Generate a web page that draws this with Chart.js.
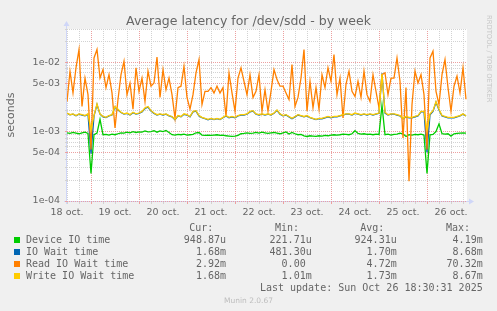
<!DOCTYPE html>
<html>
<head>
<meta charset="utf-8">
<script src="https://cdn.jsdelivr.net/npm/chart.js@4/dist/chart.umd.min.js"></script>
<style>
  html, body { margin: 0; padding: 0; background: #f0f0f0; }
  #wrap { position: relative; width: 497px; height: 311px; overflow: hidden; background: #f0f0f0; }
  #c { position: absolute; left: 0; top: 0; }
  .txt { position: absolute; white-space: pre; color: #666; }
  .title { left: 0; width: 497px; text-align: center; font: 12.5px/15px 'DejaVu Sans', sans-serif; top: 12.7px; }
  .mono { font: 10px/12px 'DejaVu Sans Mono', monospace; }
  .r { text-align: right; }
  .sq { position: absolute; left: 14px; width: 6px; height: 6px; }
  .munin { left: 0; width: 497px; text-align: center; font: 7.5px/9px 'DejaVu Sans', sans-serif; color: #bdbdbd; top: 295.6px; }
  .rrd { left: 484.5px; top: 15px; font: 6.8px/7px 'DejaVu Sans', sans-serif; color: #c6c6c6; writing-mode: vertical-rl; }
</style>
</head>
<body>
<div id="wrap">
  <canvas id="c" width="497" height="311"></canvas>
  <div class="txt title">Average latency for /dev/sdd - by week</div>
  <div class="txt rrd">RRDTOOL / TOBI OETIKER</div>
  <div id="legend"></div>
  <div class="txt munin">Munin 2.0.67</div>
</div>
<script>
// ---- time axis: one sample every 1.5 h, 0 h = left edge ("18 oct.")
const SAMPLE_HOURS = 1.5;
const dayLabels = ['18 oct.', '19 oct.', '20 oct.', '21 oct.', '22 oct.', '23 oct.', '24 oct.', '25 oct.', '26 oct.'];
const yTickValues = [1e-4, 2e-4, 3e-4, 4e-4, 5e-4, 6e-4, 7e-4, 8e-4, 9e-4,
                     1e-3, 2e-3, 3e-3, 4e-3, 5e-3, 6e-3, 7e-3, 8e-3, 9e-3,
                     1e-2, 2e-2, 3e-2];

// ---- series (seconds)
const deviceIO = [
  9.6e-4, 9.4e-4, 9.7e-4, 9.5e-4, 9.3e-4, 9.6e-4, 9.8e-4, 9.4e-4, 2.5e-4, 9.0e-4,
  9.5e-4, 1.5e-3, 9.0e-4, 9.1e-4, 8.9e-4, 9.2e-4, 9.0e-4, 9.3e-4, 9.6e-4, 9.5e-4,
  9.8e-4, 9.6e-4, 1.0e-3, 9.7e-4, 9.9e-4, 9.8e-4, 1.02e-3, 9.9e-4, 1.0e-3, 1.03e-3,
  9.8e-4, 1.02e-3, 1.0e-3, 1.04e-3, 9.7e-4, 9.0e-4, 8.9e-4, 9.1e-4, 9.0e-4, 9.2e-4,
  8.9e-4, 9.0e-4, 9.1e-4, 9.6e-4, 9.7e-4, 8.9e-4, 8.8e-4, 8.9e-4, 8.8e-4, 8.9e-4,
  9.0e-4, 8.8e-4, 8.9e-4, 8.7e-4, 8.6e-4, 8.5e-4, 8.6e-4, 8.8e-4, 9.3e-4, 9.4e-4,
  9.6e-4, 9.4e-4, 9.5e-4, 9.7e-4, 9.5e-4, 9.8e-4, 9.6e-4, 9.4e-4, 9.6e-4, 9.7e-4,
  9.5e-4, 9.3e-4, 9.6e-4, 9.9e-4, 9.2e-4, 9.7e-4, 9.3e-4, 9.0e-4, 9.1e-4, 8.7e-4,
  8.5e-4, 8.7e-4, 8.6e-4, 8.5e-4, 8.7e-4, 8.6e-4, 8.8e-4, 8.7e-4, 8.9e-4, 9.0e-4,
  8.9e-4, 9.0e-4, 9.2e-4, 9.1e-4, 9.0e-4, 9.3e-4, 1.03e-3, 9.4e-4, 9.2e-4, 9.3e-4,
  9.1e-4, 9.2e-4, 9.0e-4, 9.2e-4, 9.1e-4, 2.4e-3, 9.0e-4, 9.2e-4, 8.9e-4, 9.1e-4,
  9.2e-4, 9.5e-4, 9.3e-4, 8.5e-4, 9.0e-4, 8.9e-4, 9.1e-4, 9.0e-4, 9.2e-4, 8.9e-4,
  2.5e-4, 9.0e-4, 9.1e-4, 1.0e-3, 1.29e-3, 9.3e-4, 9.2e-4, 9.3e-4, 8.6e-4, 9.3e-4,
  9.4e-4, 9.5e-4, 9.6e-4, 9.4887e-4
];
const ioWait = [
  1.83e-3, 1.74e-3, 1.78e-3, 1.69e-3, 1.78e-3, 1.73e-3, 1.69e-3, 1.78e-3, 4.8e-4, 1.68e-3,
  2.45e-3, 1.78e-3, 1.63e-3, 1.59e-3, 1.68e-3, 1.73e-3, 2.25e-3, 2.05e-3, 1.88e-3, 1.78e-3,
  1.83e-3, 1.73e-3, 1.87e-3, 1.78e-3, 1.83e-3, 1.92e-3, 2.15e-3, 2.25e-3, 1.97e-3, 1.83e-3,
  1.73e-3, 1.78e-3, 1.73e-3, 1.78e-3, 1.68e-3, 1.63e-3, 1.48e-3, 1.68e-3, 1.63e-3, 1.77e-3,
  1.73e-3, 1.63e-3, 1.92e-3, 1.97e-3, 1.68e-3, 1.58e-3, 1.53e-3, 1.48e-3, 1.53e-3, 1.49e-3,
  1.53e-3, 1.49e-3, 1.58e-3, 1.68e-3, 1.58e-3, 1.63e-3, 1.58e-3, 1.68e-3, 1.73e-3, 1.73e-3,
  1.78e-3, 1.92e-3, 1.97e-3, 1.78e-3, 1.73e-3, 1.78e-3, 1.73e-3, 1.78e-3, 1.73e-3, 1.83e-3,
  2.02e-3, 1.78e-3, 1.68e-3, 1.73e-3, 1.63e-3, 1.53e-3, 1.63e-3, 1.73e-3, 1.68e-3, 1.63e-3,
  1.68e-3, 1.58e-3, 1.53e-3, 1.49e-3, 1.53e-3, 1.53e-3, 1.58e-3, 1.63e-3, 1.58e-3, 1.63e-3,
  1.63e-3, 1.68e-3, 1.73e-3, 1.78e-3, 1.78e-3, 1.73e-3, 1.83e-3, 1.78e-3, 1.73e-3, 1.78e-3,
  1.73e-3, 1.78e-3, 1.73e-3, 1.78e-3, 1.83e-3, 6.9e-3, 1.85e-3, 1.73e-3, 1.78e-3, 1.78e-3,
  1.73e-3, 1.68e-3, 1.53e-3, 1.63e-3, 1.58e-3, 1.58e-3, 1.63e-3, 1.68e-3, 1.92e-3, 1.93e-3,
  5.0e-4, 1.75e-3, 1.95e-3, 2.65e-3, 2.05e-3, 1.68e-3, 1.63e-3, 1.58e-3, 1.58e-3, 1.58e-3,
  1.63e-3, 1.68e-3, 1.78e-3, 1.68e-3
];
const readIOWait = [
  2.7e-3, 7.4e-3, 3.6e-3, 8.3e-3, 1.52e-2, 2.3e-3, 5.9e-3, 3.4e-3, 5.5e-4, 1.15e-2,
  1.52e-2, 5.9e-3, 7.8e-3, 4.3e-3, 6.6e-3, 3.6e-3, 1.13e-3, 2.9e-3, 6.6e-3, 1.03e-2,
  3.4e-3, 5.0e-3, 2.1e-3, 8.3e-3, 3.8e-3, 5.9e-3, 2.7e-3, 7.4e-3, 4.5e-3, 5.0e-3,
  1.18e-2, 3.1e-3, 7.8e-3, 4.0e-3, 5.9e-3, 3.4e-3, 1.57e-3, 4.3e-3, 4.5e-3, 8.7e-3,
  3.1e-3, 2.1e-3, 3.4e-3, 7.0e-3, 1.09e-2, 2.45e-3, 3.8e-3, 3.8e-3, 4.3e-3, 3.6e-3,
  4.5e-3, 3.6e-3, 4.3e-3, 1.66e-3, 7.0e-3, 3.6e-3, 1.96e-3, 5.9e-3, 8.3e-3, 5.3e-3,
  3.4e-3, 6.6e-3, 3.1e-3, 3.8e-3, 6.6e-3, 1.96e-3, 4.0e-3, 1.96e-3, 3.8e-3, 7.8e-3,
  5.6e-3, 4.5e-3, 4.5e-3, 3.6e-3, 2.9e-3, 9.2e-3, 2.3e-3, 3.1e-3, 5.9e-3, 1.52e-2,
  1.96e-3, 5.3e-3, 2.2e-3, 4.3e-3, 2.1e-3, 6.6e-3, 4.3e-3, 8.3e-3, 5.3e-3, 1.29e-2,
  3.4e-3, 5.9e-3, 1.57e-3, 4.8e-3, 7.4e-3, 3.8e-3, 3.2e-3, 5.3e-3, 3.1e-3, 7.4e-3,
  3.4e-3, 2.7e-3, 6.6e-3, 3.8e-3, 2.2e-3, 6.6e-3, 7.0e-3, 3.4e-3, 5.9e-3, 5.9e-3,
  1.15e-2, 5.3e-3, 8.1e-4, 4.3e-3, 1.92e-4, 2.45e-3, 7.4e-3, 5.0e-3, 6.6e-3, 3.4e-3,
  5.5e-4, 1.15e-2, 1.44e-2, 3.8e-3, 2.45e-3, 6.6e-3, 1.09e-2, 4.3e-3, 1.96e-3, 4.5e-3,
  6.3e-3, 3.6e-3, 8.3e-3, 2.92e-3
];
const writeIOWait = [
  1.85e-3, 1.75e-3, 1.8e-3, 1.7e-3, 1.8e-3, 1.75e-3, 1.7e-3, 1.8e-3, 1.05e-3, 1.7e-3,
  2.5e-3, 1.8e-3, 1.65e-3, 1.6e-3, 1.7e-3, 1.75e-3, 2.3e-3, 2.1e-3, 1.9e-3, 1.8e-3,
  1.85e-3, 1.75e-3, 1.9e-3, 1.8e-3, 1.85e-3, 1.95e-3, 2.2e-3, 2.3e-3, 2.0e-3, 1.85e-3,
  1.75e-3, 1.8e-3, 1.75e-3, 1.8e-3, 1.7e-3, 1.65e-3, 1.5e-3, 1.7e-3, 1.65e-3, 1.8e-3,
  1.75e-3, 1.65e-3, 1.95e-3, 2.0e-3, 1.7e-3, 1.6e-3, 1.55e-3, 1.5e-3, 1.55e-3, 1.5e-3,
  1.55e-3, 1.5e-3, 1.6e-3, 1.7e-3, 1.6e-3, 1.65e-3, 1.6e-3, 1.7e-3, 1.75e-3, 1.75e-3,
  1.8e-3, 1.95e-3, 2.0e-3, 1.8e-3, 1.75e-3, 1.8e-3, 1.75e-3, 1.8e-3, 1.75e-3, 1.85e-3,
  2.05e-3, 1.8e-3, 1.7e-3, 1.75e-3, 1.65e-3, 1.55e-3, 1.65e-3, 1.75e-3, 1.7e-3, 1.65e-3,
  1.7e-3, 1.6e-3, 1.55e-3, 1.5e-3, 1.55e-3, 1.55e-3, 1.6e-3, 1.65e-3, 1.6e-3, 1.65e-3,
  1.65e-3, 1.7e-3, 1.75e-3, 1.8e-3, 1.8e-3, 1.75e-3, 1.85e-3, 1.8e-3, 1.75e-3, 1.8e-3,
  1.75e-3, 1.8e-3, 1.75e-3, 1.8e-3, 1.85e-3, 6.8e-3, 1.9e-3, 1.75e-3, 1.8e-3, 1.8e-3,
  1.75e-3, 1.7e-3, 1.55e-3, 1.65e-3, 1.6e-3, 1.6e-3, 1.65e-3, 1.7e-3, 1.95e-3, 1.95e-3,
  1.05e-3, 1.8e-3, 2.0e-3, 2.7e-3, 2.1e-3, 1.7e-3, 1.65e-3, 1.6e-3, 1.6e-3, 1.6e-3,
  1.65e-3, 1.7e-3, 1.8e-3, 1.68e-3
];

// ---- legend table
const seriesNames = ['Device IO time', 'IO Wait time', 'Read IO Wait time', 'Write IO Wait time'];
const seriesColors = ['#00cc00', '#0066b3', '#ff8000', '#ffcc00'];
const curValues = ['948.87u', '1.68m', '2.92m', '1.68m'];
const minValues = ['221.71u', '481.30u', '0.00 ', '1.01m'];
const avgValues = ['924.31u', '1.70m', '4.72m', '1.73m'];
const maxValues = ['4.19m', '8.68m', '70.32m', '8.67m'];
const lastUpdate = 'Last update: Sun Oct 26 18:30:31 2025';

// build legend DOM
(function () {
  const lg = document.getElementById('legend');
  const add = (cls, text, style) => {
    const d = document.createElement('div');
    d.className = 'txt mono ' + cls;
    d.textContent = text;
    Object.assign(d.style, style);
    lg.appendChild(d);
  };
  const headTop = 221.5, rowTop = 233.5, rowStep = 12;
  const colRight = [271, 185.3, 100.3, 14.3];
  const headRight = [283.7, 198, 112.7, 27];
  ['Cur:', 'Min:', 'Avg:', 'Max:'].forEach((h, k) =>
    add('r', h, { right: headRight[k] + 'px', top: headTop + 'px' }));
  seriesNames.forEach((name, i) => {
    const top = rowTop + i * rowStep;
    const sq = document.createElement('div');
    sq.className = 'sq';
    sq.style.top = (237 + i * rowStep) + 'px';
    sq.style.background = seriesColors[i];
    lg.appendChild(sq);
    add('', name, { left: '26px', top: top + 'px' });
    [curValues, minValues, avgValues, maxValues].forEach((arr, k) =>
      add('r', arr[i], { right: colRight[k] + 'px', top: top + 'px' }));
  });
  add('r', lastUpdate, { right: '14.3px', top: (rowTop + 4 * rowStep) + 'px' });
})();

// ---- chart
const hours = deviceIO.map((_, i) => i * SAMPLE_HOURS);
const toPoints = arr => arr.map((v, i) => ({ x: hours[i], y: v }));

const GRID_MINOR = '#d2d2d2';
const GRID_MAJOR = '#eca0a0';
const AXIS = '#cfd6f8';

const frame = {
  id: 'frame',
  beforeDraw(chart) {
    const { ctx, chartArea: a } = chart;
    ctx.save();
    ctx.fillStyle = '#ffffff';
    ctx.fillRect(a.left, a.top, a.right - a.left, a.bottom - a.top);
    ctx.strokeStyle = AXIS;
    ctx.fillStyle = AXIS;
    ctx.lineWidth = 1;
    const x0 = Math.round(a.left) - 0.5, y0 = Math.round(a.bottom) + 0.5;
    ctx.beginPath();
    ctx.moveTo(x0, a.bottom + 3); ctx.lineTo(x0, a.top - 4);
    ctx.moveTo(a.left - 3, y0); ctx.lineTo(a.right + 3, y0);
    ctx.stroke();
    ctx.beginPath();
    ctx.moveTo(x0 - 3, a.top - 3); ctx.lineTo(x0 + 3, a.top - 3); ctx.lineTo(x0, a.top - 8); ctx.closePath();
    ctx.fill();
    ctx.beginPath();
    ctx.moveTo(a.right + 2, y0 - 3); ctx.lineTo(a.right + 2, y0 + 3); ctx.lineTo(a.right + 7, y0); ctx.closePath();
    ctx.fill();
    ctx.restore();
  }
};

const fmtY = v => {
  const e = Math.floor(Math.log10(v) + 1e-9);
  const m = Math.round(v / Math.pow(10, e));
  if (m === 1 || m === 5) return m + 'e-' + String(-e).padStart(2, '0');
  return '';
};
const isMajorY = v => { const e = Math.floor(Math.log10(v) + 1e-9); const m = Math.round(v / Math.pow(10, e)); return m === 1 || m === 5; };

Chart.defaults.font.family = "'DejaVu Sans', sans-serif";
Chart.defaults.color = '#666';

new Chart(document.getElementById('c'), {
  type: 'line',
  data: {
    datasets: [
      { label: seriesNames[0], data: toPoints(deviceIO), borderColor: seriesColors[0], order: 4 },
      { label: seriesNames[1], data: toPoints(ioWait), borderColor: seriesColors[1], order: 3 },
      { label: seriesNames[2], data: toPoints(readIOWait), borderColor: seriesColors[2], order: 2 },
      { label: seriesNames[3], data: toPoints(writeIOWait), borderColor: seriesColors[3], order: 1 }
    ]
  },
  options: {
    responsive: false,
    devicePixelRatio: 1,
    animation: false,
    events: [],
    parsing: false,
    elements: {
      line: { borderWidth: 1.3, tension: 0, fill: false },
      point: { radius: 0 }
    },
    layout: { padding: { left: 0, top: 29, right: 30, bottom: 90 } },
    plugins: { legend: { display: false }, title: { display: false }, tooltip: { enabled: false } },
    scales: {
      x: {
        type: 'linear',
        min: 0,
        max: 200,
        afterBuildTicks: s => { s.ticks = []; for (let h = 0; h <= 198; h += 6) s.ticks.push({ value: h }); },
        afterFit: s => { s.height = 20; },
        grid: {
          color: c => (c.tick && c.tick.value % 24 === 12) ? GRID_MAJOR : GRID_MINOR,
          tickColor: c => (c.tick && c.tick.value % 24 === 12) ? GRID_MAJOR : GRID_MINOR,
          lineWidth: 1, drawTicks: true, tickLength: 3
        },
        border: { display: false, dash: [1, 1] },
        ticks: {
          autoSkip: false, maxRotation: 0, padding: 3,
          font: { size: 9.5 }, color: '#666',
          callback: v => (v % 24 === 0 && dayLabels[v / 24]) ? dayLabels[v / 24] : ''
        }
      },
      y: {
        type: 'logarithmic',
        min: 1e-4,
        max: 3e-2,
        afterBuildTicks: s => { s.ticks = yTickValues.map(v => ({ value: v })); },
        afterFit: s => { s.width = 67; },
        grid: {
          color: c => (c.tick && isMajorY(c.tick.value)) ? GRID_MAJOR : GRID_MINOR,
          tickColor: c => (c.tick && isMajorY(c.tick.value)) ? GRID_MAJOR : GRID_MINOR,
          lineWidth: 1, drawTicks: true, tickLength: 2
        },
        border: { display: false, dash: [1, 1] },
        ticks: { autoSkip: false, padding: 5, font: { size: 9.5 }, color: '#666', callback: v => fmtY(v) },
        title: { display: true, text: 'seconds', font: { size: 11 }, color: '#666', padding: { top: 4.4, bottom: 0 } }
      }
    }
  },
  plugins: [frame]
});
</script>
</body>
</html>
